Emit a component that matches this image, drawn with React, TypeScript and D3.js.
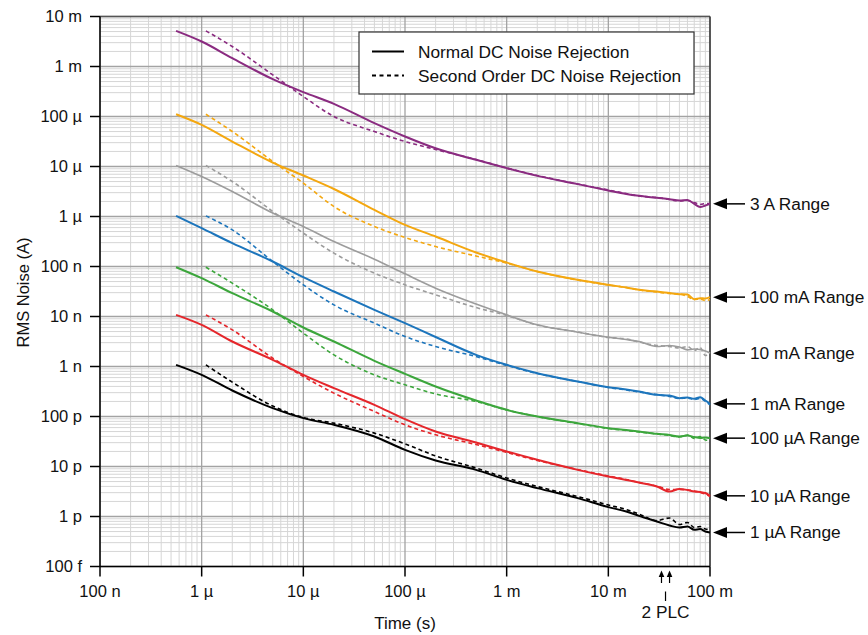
import React from "react";
import * as d3 from "d3";

// ---------- data ----------
const tSolid = [0.56e-6, 1e-6, 2e-6, 5e-6, 10e-6, 20e-6, 50e-6, 100e-6, 200e-6, 500e-6, 1e-3, 2e-3, 5e-3, 10e-3, 15e-3, 20e-3, 30e-3, 40e-3, 50e-3, 60e-3, 70e-3, 80e-3, 90e-3, 100e-3];
const tDashed = [1.1e-6, 2e-6, 5e-6, 10e-6, 20e-6, 50e-6, 100e-6, 200e-6, 500e-6, 1e-3, 2e-3, 5e-3, 10e-3, 15e-3, 20e-3, 30e-3, 40e-3, 50e-3, 60e-3, 70e-3, 80e-3, 90e-3, 100e-3];

const solid3A = [5.16e-3, 3.16e-3, 1.47e-3, 5.58e-4, 3.07e-4, 1.79e-4, 7.36e-5, 3.98e-5, 2.31e-5, 1.36e-5, 9.27e-6, 6.5e-6, 4.44e-6, 3.31e-6, 2.82e-6, 2.59e-6, 2.36e-6, 2.22e-6, 2.09e-6, 2.15e-6, 1.79e-6, 1.54e-6, 1.66e-6, 1.79e-6];
const dashed3A = [5.16e-3, 2.51e-3, 6.81e-4, 2.51e-4, 1.0e-4, 5.01e-5, 3.16e-5, 2.19e-5, 1.38e-5, 9.33e-6, 6.61e-6, 4.47e-6, 3.39e-6, 2.88e-6, 2.57e-6, 2.4e-6, 2.19e-6, 2.04e-6, 2.09e-6, 1.91e-6, 1.74e-6, 1.82e-6, 1.82e-6];

const solid100mA = [1.11e-4, 6.81e-5, 3.16e-5, 1.2e-5, 6.61e-6, 3.55e-6, 1.36e-6, 6.81e-7, 3.98e-7, 1.91e-7, 1.2e-7, 7.94e-8, 5.41e-8, 4.3e-8, 3.8e-8, 3.41e-8, 3.16e-8, 2.95e-8, 2.8e-8, 2.75e-8, 2.22e-8, 2.33e-8, 2.29e-8, 2.44e-8];
const dashed100mA = [1.11e-4, 5.01e-5, 1.26e-5, 4.65e-6, 1.58e-6, 6.31e-7, 3.8e-7, 2.51e-7, 1.62e-7, 1.17e-7, 7.94e-8, 5.37e-8, 4.27e-8, 3.8e-8, 3.39e-8, 3.09e-8, 2.88e-8, 2.82e-8, 2.51e-8, 2.19e-8, 2.24e-8, 2.09e-8, 2.19e-8];

const solid10mA = [1.05e-5, 6.31e-6, 3.16e-6, 1.17e-6, 6.31e-7, 3.16e-7, 1.4e-7, 7.13e-8, 3.69e-8, 1.78e-8, 1.08e-8, 6.81e-9, 4.86e-9, 3.86e-9, 3.47e-9, 3.16e-9, 2.51e-9, 2.63e-9, 2.45e-9, 2.15e-9, 2.24e-9, 2.19e-9, 2.04e-9, 1.85e-9];
const dashed10mA = [1.05e-5, 5.01e-6, 1.26e-6, 4.65e-7, 1.85e-7, 7.36e-8, 4.3e-8, 2.71e-8, 1.51e-8, 1.05e-8, 6.76e-9, 4.9e-9, 3.8e-9, 3.55e-9, 3.09e-9, 2.63e-9, 2.51e-9, 2.34e-9, 2.51e-9, 2.09e-9, 2.4e-9, 1.66e-9, 1.91e-9];

const solid1mA = [1.03e-6, 5.85e-7, 2.93e-7, 1.26e-7, 6.12e-8, 3.16e-8, 1.36e-8, 7.36e-9, 3.89e-9, 1.71e-9, 1.08e-9, 7.36e-10, 5.01e-10, 3.86e-10, 3.47e-10, 3.16e-10, 2.71e-10, 2.63e-10, 2.33e-10, 2.4e-10, 2.26e-10, 2.44e-10, 2.09e-10, 1.79e-10];
const dashed1mA = [1.03e-6, 5.41e-7, 1.26e-7, 4.3e-8, 1.71e-8, 7.36e-9, 3.98e-9, 2.51e-9, 1.58e-9, 1.05e-9, 7.24e-10, 5.01e-10, 3.8e-10, 3.39e-10, 3.09e-10, 2.75e-10, 2.51e-10, 2.29e-10, 2.34e-10, 2.19e-10, 2.29e-10, 2.0e-10, 1.7e-10];

const solid100uA = [9.7e-8, 5.85e-8, 2.93e-8, 1.26e-8, 6.03e-9, 3.16e-9, 1.3e-9, 7.13e-10, 3.98e-10, 2.09e-10, 1.36e-10, 1.0e-10, 7.36e-11, 5.85e-11, 5.37e-11, 5.01e-11, 4.5e-11, 4.27e-11, 3.98e-11, 4.17e-11, 3.89e-11, 3.72e-11, 3.8e-11, 3.69e-11];
const dashed100uA = [9.7e-8, 4.65e-8, 1.36e-8, 4.65e-9, 1.71e-9, 6.81e-10, 4.3e-10, 2.82e-10, 2.0e-10, 1.35e-10, 1.0e-10, 7.24e-11, 5.75e-11, 5.25e-11, 4.9e-11, 4.47e-11, 4.17e-11, 3.89e-11, 4.27e-11, 3.63e-11, 3.98e-11, 3.39e-11, 3.31e-11];

const solid10uA = [1.08e-8, 6.81e-9, 3.16e-9, 1.36e-9, 6.81e-10, 3.69e-10, 1.71e-10, 8.85e-11, 5.01e-11, 3.02e-11, 2.0e-11, 1.36e-11, 8.57e-12, 6.31e-12, 5.37e-12, 4.79e-12, 3.98e-12, 3.16e-12, 3.55e-12, 3.39e-12, 3.16e-12, 3.09e-12, 2.95e-12, 2.59e-12];
const dashed10uA = [1.08e-8, 5.41e-9, 1.47e-9, 6.31e-10, 2.93e-10, 1.26e-10, 6.81e-11, 4.3e-11, 2.75e-11, 1.91e-11, 1.32e-11, 8.71e-12, 6.46e-12, 5.5e-12, 4.79e-12, 4.07e-12, 3.47e-12, 3.47e-12, 3.39e-12, 3.24e-12, 3.02e-12, 2.82e-12, 2.51e-12];

const solid1uA = [1.08e-9, 6.81e-10, 3.31e-10, 1.47e-10, 9.27e-11, 6.81e-11, 3.98e-11, 2.15e-11, 1.32e-11, 8.57e-12, 5.41e-12, 3.69e-12, 2.33e-12, 1.54e-12, 1.26e-12, 1.03e-12, 7.94e-13, 6.61e-13, 6.03e-13, 6.31e-13, 5.41e-13, 5.62e-13, 5.01e-13, 4.79e-13];
const dashed1uA = [1.08e-9, 4.86e-10, 1.62e-10, 9.55e-11, 7.36e-11, 4.65e-11, 2.84e-11, 1.63e-11, 9.33e-12, 5.89e-12, 3.98e-12, 2.51e-12, 1.7e-12, 1.38e-12, 1.12e-12, 8.32e-13, 9.33e-13, 6.92e-13, 7.59e-13, 6.03e-13, 6.31e-13, 5.62e-13, 5.5e-13];

const rangeLabels = ["3 A Range", "100 mA Range", "10 mA Range", "1 mA Range", "100 µA Range", "10 µA Range", "1 µA Range"];
const seriesColors = ["#8a2b80", "#f4a70f", "#9c9c9c", "#1c75bc", "#3ca63c", "#e5262b", "#000000"];
const solidSeries = [solid3A, solid100mA, solid10mA, solid1mA, solid100uA, solid10uA, solid1uA];
const dashedSeries = [dashed3A, dashed100mA, dashed10mA, dashed1mA, dashed100uA, dashed10uA, dashed1uA];

const xTickValues = [1e-7, 1e-6, 1e-5, 1e-4, 1e-3, 1e-2, 1e-1];
const xTickLabels = ["100 n", "1 µ", "10 µ", "100 µ", "1 m", "10 m", "100 m"];
const yTickValues = [1e-13, 1e-12, 1e-11, 1e-10, 1e-9, 1e-8, 1e-7, 1e-6, 1e-5, 1e-4, 1e-3, 1e-2];
const yTickLabels = ["100 f", "1 p", "10 p", "100 p", "1 n", "10 n", "100 n", "1 µ", "10 µ", "100 µ", "1 m", "10 m"];
const plcTimes = [2 / 60, 2 / 50];
const legendLabels = ["Normal DC Noise Rejection", "Second Order DC Noise Rejection"];

// ---------- layout ----------
const W = 868, H = 635;
const L = 100, R = 710, T = 16.5, B = 566.5;
const FONT = "'Liberation Sans', Arial, Helvetica, sans-serif";

export default function App() {
  const x = d3.scaleLog().domain([1e-7, 1e-1]).range([L, R]);
  const y = d3.scaleLog().domain([1e-13, 1e-2]).range([B, T]);

  const minorX: number[] = [];
  for (let e = -7; e < -1; e++) for (let k = 2; k <= 9; k++) minorX.push(k * Math.pow(10, e));
  const minorY: number[] = [];
  for (let e = -13; e < -2; e++) for (let k = 2; k <= 9; k++) minorY.push(k * Math.pow(10, e));

  const line = d3
    .line<[number, number]>()
    .x((d) => x(d[0]))
    .y((d) => y(d[1]))
    .curve(d3.curveMonotoneX);

  const fsTick = 16.5;
  const fsText = 17.3;

  return (
    <svg width={W} height={H} style={{ position: "absolute", left: 0, top: 0, background: "#fff" }} fontFamily={FONT}>
      <rect x={0} y={0} width={W} height={H} fill="#fff" />
      {/* minor grid */}
      {minorX.map((v, i) => (
        <line key={"mx" + i} x1={x(v)} x2={x(v)} y1={T} y2={B} stroke="#d6d6d6" strokeWidth={1} />
      ))}
      {minorY.map((v, i) => (
        <line key={"my" + i} x1={L} x2={R} y1={y(v)} y2={y(v)} stroke="#d6d6d6" strokeWidth={1} />
      ))}
      {/* major grid */}
      {xTickValues.map((v, i) => (
        <line key={"gx" + i} x1={x(v)} x2={x(v)} y1={T} y2={B} stroke="#a3a3a3" strokeWidth={1.3} />
      ))}
      {yTickValues.map((v, i) => (
        <line key={"gy" + i} x1={L} x2={R} y1={y(v)} y2={y(v)} stroke="#a3a3a3" strokeWidth={1.3} />
      ))}
      <line x1={L} x2={R} y1={T} y2={T} stroke="#555" strokeWidth={1.5} />
      <line x1={R} x2={R} y1={T} y2={B} stroke="#333" strokeWidth={1.5} />

      {/* curves */}
      {seriesColors.map((c, i) => (
        <g key={"s" + i}>
          <path
            d={line(tDashed.map((t, j) => [t, dashedSeries[i][j]]) as [number, number][]) || ""}
            fill="none"
            stroke={c}
            strokeWidth={1.6}
            strokeDasharray="4 3"
          />
          <path
            d={line(tSolid.map((t, j) => [t, solidSeries[i][j]]) as [number, number][]) || ""}
            fill="none"
            stroke={c}
            strokeWidth={i === 2 ? 1.6 : 2}
          />
        </g>
      ))}

      {/* axes */}
      <line x1={L} x2={L} y1={T} y2={B} stroke="#000" strokeWidth={1.5} />
      <line x1={L} x2={R} y1={B} y2={B} stroke="#000" strokeWidth={1.5} />
      {yTickValues.map((v, i) => (
        <g key={"yt" + i}>
          <line x1={L - 10} x2={L} y1={y(v)} y2={y(v)} stroke="#000" strokeWidth={1.5} />
          <text x={L - 18} y={y(v) - 1} fontSize={fsTick} textAnchor="end" dominantBaseline="central" fill="#111">
            {yTickLabels[i]}
          </text>
        </g>
      ))}
      {xTickValues.map((v, i) => (
        <g key={"xt" + i}>
          <line x1={x(v)} x2={x(v)} y1={B} y2={B + 10} stroke="#000" strokeWidth={1.5} />
          <text x={x(v)} y={B + 30.5} fontSize={fsTick} textAnchor="middle" fill="#111">
            {xTickLabels[i]}
          </text>
        </g>
      ))}

      {/* axis titles */}
      <text
        transform={`translate(${23},${(T + B) / 2 + 1}) rotate(-90)`}
        fontSize={16.5}
        textAnchor="middle"
        dominantBaseline="central"
        fill="#111"
      >
        RMS Noise (A)
      </text>
      <text x={405} y={628.5} fontSize={17} textAnchor="middle" fill="#111">
        Time (s)
      </text>

      {/* 2 PLC markers */}
      {plcTimes.map((t, i) => (
        <g key={"plc" + i}>
          <line x1={x(t)} x2={x(t)} y1={583} y2={575} stroke="#000" strokeWidth={1.2} />
          <path d={`M${x(t)},${570.5} L${x(t) - 2.8},${577} L${x(t) + 2.8},${577} Z`} fill="#000" />
        </g>
      ))}
      <line
        x1={(x(plcTimes[0]) + x(plcTimes[1])) / 2}
        x2={(x(plcTimes[0]) + x(plcTimes[1])) / 2}
        y1={591.5}
        y2={601}
        stroke="#000"
        strokeWidth={1.2}
      />
      <text x={(x(plcTimes[0]) + x(plcTimes[1])) / 2} y={617.5} fontSize={fsText} textAnchor="middle" fill="#111">
        2 PLC
      </text>

      {/* range labels */}
      {rangeLabels.map((lab, i) => {
        const yy = y(solidSeries[i][solidSeries[i].length - 1]);
        return (
          <g key={"rl" + i}>
            <path d={`M${R + 3},${yy} L${R + 17},${yy - 5.5} L${R + 17},${yy + 5.5} Z`} fill="#000" />
            <line x1={R + 16} x2={R + 35} y1={yy} y2={yy} stroke="#000" strokeWidth={1.5} />
            <text x={R + 40} y={yy} fontSize={fsText} dominantBaseline="central" fill="#111">
              {lab}
            </text>
          </g>
        );
      })}

      {/* legend */}
      <rect x={359} y={32} width={335} height={62} fill="#fff" stroke="#333" strokeWidth={1.2} />
      <line x1={372} x2={404} y1={51.5} y2={51.5} stroke="#000" strokeWidth={2} />
      <line x1={372} x2={404} y1={75.5} y2={75.5} stroke="#000" strokeWidth={2} strokeDasharray="4 3.5" />
      <text x={418} y={51.5} fontSize={fsText} dominantBaseline="central" fill="#111">
        {legendLabels[0]}
      </text>
      <text x={418} y={75.5} fontSize={fsText} dominantBaseline="central" fill="#111">
        {legendLabels[1]}
      </text>
    </svg>
  );
}
